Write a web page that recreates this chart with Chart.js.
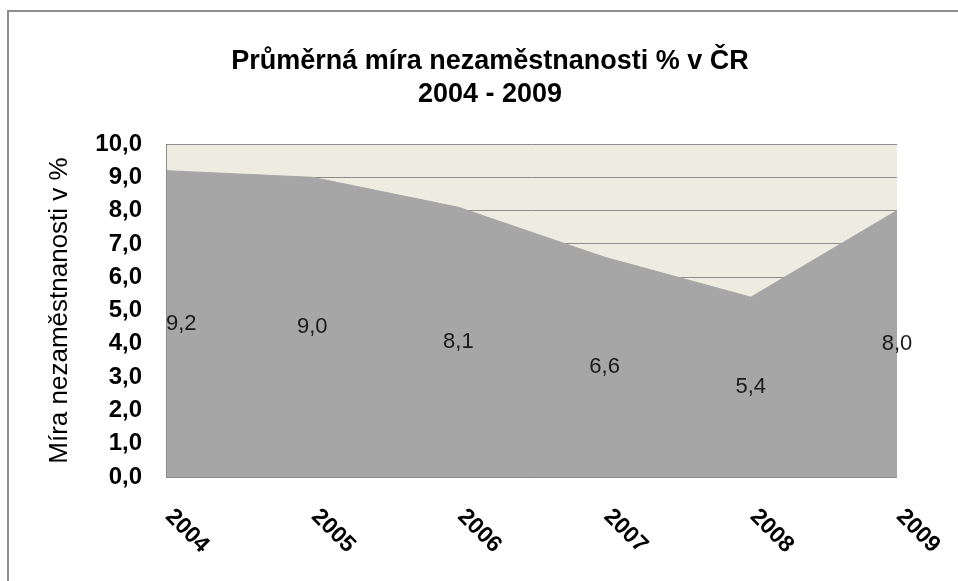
<!DOCTYPE html>
<html><head><meta charset="utf-8">
<script src="https://cdn.jsdelivr.net/npm/chart.js@4.4.1/dist/chart.umd.min.js"></script>
<style>html,body{margin:0;padding:0;background:#fff;}canvas{display:block;}</style>
</head><body>
<canvas id="c" width="958" height="581"></canvas>
<script>
const years = ['2004', '2005', '2006', '2007', '2008', '2009'];
const unemployment = [9.2, 9.0, 8.1, 6.6, 5.4, 8.0];
const valueLabels = ['9,2', '9,0', '8,1', '6,6', '5,4', '8,0'];
const yTickLabels = ['0,0', '1,0', '2,0', '3,0', '4,0', '5,0', '6,0', '7,0', '8,0', '9,0', '10,0'];
const titleLines = ['Průměrná míra nezaměstnanosti % v ČR', '2004 - 2009'];
const yAxisTitle = 'Míra nezaměstnanosti v %';

const FONT = "'Liberation Sans', Arial, sans-serif";

const decor = {
  id: 'decor',
  beforeDraw(chart) {
    const ctx = chart.ctx, a = chart.chartArea;
    ctx.save();
    ctx.fillStyle = '#ffffff';
    ctx.fillRect(0, 0, chart.width, chart.height);
    ctx.strokeStyle = '#8f8f8f';
    ctx.lineWidth = 2;
    ctx.beginPath();
    ctx.moveTo(8, chart.height);
    ctx.lineTo(8, 11);
    ctx.lineTo(chart.width, 11);
    ctx.stroke();
    ctx.fillStyle = '#EEECE1';
    ctx.fillRect(a.left, a.top, a.right - a.left, a.bottom - a.top);
    // title
    ctx.fillStyle = '#000000';
    ctx.font = 'bold 27px ' + FONT;
    ctx.textAlign = 'center';
    ctx.textBaseline = 'middle';
    ctx.fillText(titleLines[0], 490, 62);
    ctx.fillText(titleLines[1], 490, 95);
    ctx.restore();
  },
  afterDatasetsDraw(chart) {
    const ctx = chart.ctx, a = chart.chartArea;
    const xs = chart.scales.x, ys = chart.scales.y;
    ctx.save();
    // axis lines
    ctx.strokeStyle = '#8a8a8a';
    ctx.lineWidth = 1;
    ctx.beginPath();
    ctx.moveTo(a.left + 0.5, a.top);
    ctx.lineTo(a.left + 0.5, a.bottom + 0.5);
    ctx.lineTo(a.right, a.bottom + 0.5);
    ctx.stroke();
    // value labels
    ctx.fillStyle = '#1a1a1a';
    ctx.font = '22px ' + FONT;
    ctx.textBaseline = 'middle';
    unemployment.forEach((v, i) => {
      const x = xs.getPixelForValue(i);
      const y = ys.getPixelForValue(v / 2);
      ctx.textAlign = i === 0 ? 'left' : 'center';
      ctx.fillText(valueLabels[i], i === 0 ? x : x, y);
    });
    // x labels rotated
    ctx.fillStyle = '#000000';
    ctx.font = 'bold 23px ' + FONT;
    ctx.textAlign = 'center';
    years.forEach((yr, i) => {
      const x = xs.getPixelForValue(i) + 21;
      const y = a.bottom + 54;
      ctx.save();
      ctx.translate(x, y);
      ctx.rotate(Math.PI / 4);
      ctx.fillText(yr, 0, 0);
      ctx.restore();
    });
    ctx.restore();
  }
};

new Chart(document.getElementById('c'), {
  type: 'line',
  data: {
    labels: years,
    datasets: [{
      data: unemployment,
      fill: 'origin',
      backgroundColor: '#A6A6A6',
      borderColor: '#A6A6A6',
      borderWidth: 1,
      pointRadius: 0,
      tension: 0
    }]
  },
  options: {
    responsive: false,
    animation: false,
    devicePixelRatio: 1,
    layout: { padding: { left: 22, top: 144, right: 61, bottom: 0 } },
    plugins: { legend: { display: false }, tooltip: { enabled: false }, title: { display: false } },
    scales: {
      x: {
        type: 'category',
        offset: false,
        grid: { display: false },
        border: { display: false },
        ticks: { display: false },
        afterFit(s) { s.height = 104; }
      },
      y: {
        min: 0,
        max: 10,
        ticks: {
          stepSize: 1,
          padding: 24,
          color: '#000000',
          font: { family: FONT, size: 24, weight: 'bold' },
          callback: (v, i) => yTickLabels[i]
        },
        grid: { color: '#8c8c8c', lineWidth: 1, drawTicks: false },
        border: { display: false },
        title: {
          display: true,
          text: yAxisTitle,
          color: '#000000',
          font: { family: FONT, size: 26 },
          padding: { top: 22, bottom: 0 }
        },
        afterFit(s) { s.width = 144; }
      }
    }
  },
  plugins: [decor]
});
</script>
</body></html>
